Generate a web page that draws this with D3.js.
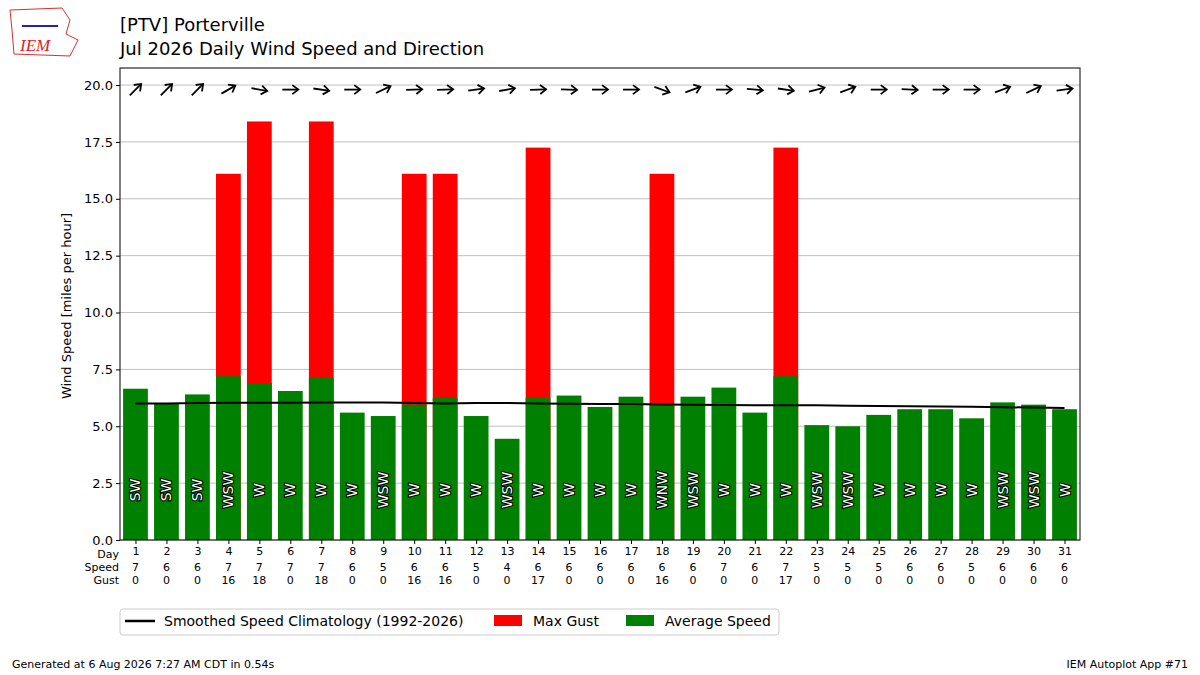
<!DOCTYPE html>
<html><head><meta charset="utf-8">
<script src="https://cdn.jsdelivr.net/npm/d3@7"></script>
<style>body{margin:0;background:#fff;font-family:"DejaVu Sans",sans-serif}</style>
</head><body><svg id="c" width="1200" height="675"></svg>
<script>
const days = d3.range(1,32);
const avgSpeed = [6.65,6.0,6.4,7.2,6.9,6.55,7.15,5.6,5.45,5.95,6.25,5.45,4.45,6.25,6.35,5.85,6.3,6.0,6.3,6.7,5.6,7.2,5.05,5.0,5.5,5.75,5.75,5.35,6.05,5.95,5.75];
const maxGust = [0,0,0,16.1,18.4,0,18.4,0,0,16.1,16.1,0,0,17.25,0,0,0,16.1,0,0,0,17.25,0,0,0,0,0,0,0,0,0];
const speedLbl = [7,6,6,7,7,7,7,6,5,6,6,5,4,6,6,6,6,6,6,7,6,7,5,5,5,6,6,5,6,6,6];
const gustLbl = [0,0,0,16,18,0,18,0,0,16,16,0,0,17,0,0,0,16,0,0,0,17,0,0,0,0,0,0,0,0,0];
const dirText = ["SW","SW","SW","WSW","W","W","W","W","WSW","W","W","W","WSW","W","W","W","W","WNW","WSW","W","W","W","WSW","WSW","W","W","W","W","WSW","WSW","W"];
const dirDeg = [225,225,225,240,280,270,278,270,245,268,268,262,260,268,272,270,270,290,250,270,275,278,255,250,270,273,270,270,250,245,262];
const climo = [6.0,6.0,6.02,6.03,6.03,6.03,6.04,6.04,6.04,6.02,6.0,6.02,6.02,6.0,5.99,5.98,5.98,5.96,5.95,5.93,5.92,5.92,5.92,5.9,5.89,5.88,5.87,5.86,5.84,5.82,5.8];
const yTicks = [0,2.5,5,7.5,10,12.5,15,17.5,20];

const svg = d3.select("#c");
const L=120,R=1080,T=68,B=540;
const x = d3.scaleLinear().domain([0.5,31.5]).range([L,R]);
const y = d3.scaleLinear().domain([0,20.75]).range([B,T]);
const bw = x(0.8)-x(0);

// grid
svg.append("g").selectAll("line").data(yTicks).join("line")
 .attr("x1",L).attr("x2",R).attr("y1",d=>y(d)).attr("y2",d=>y(d)).attr("stroke","#b0b0b0").attr("stroke-width",0.8);
// gust bars
svg.append("g").selectAll("rect").data(days.filter((d,i)=>maxGust[i]>0)).join("rect")
 .attr("x",d=>x(d)-bw/2).attr("width",bw).attr("y",d=>y(maxGust[d-1])).attr("height",d=>y(0)-y(maxGust[d-1])).attr("fill","#ff0000");
svg.append("g").selectAll("rect").data(days).join("rect")
 .attr("x",d=>x(d)-bw/2).attr("width",bw).attr("y",d=>y(avgSpeed[d-1])).attr("height",d=>y(0)-y(avgSpeed[d-1])).attr("fill","#008000");
// climo
svg.append("path").datum(days).attr("fill","none").attr("stroke","#000").attr("stroke-width",2)
 .attr("d",d3.line().x(d=>x(d)).y(d=>y(climo[d-1])));
// dir labels
svg.append("g").selectAll("text").data(days).join("text")
 .attr("transform",d=>`translate(${x(d)+5},${y(2.2)}) rotate(-90)`)
 .attr("text-anchor","middle").attr("font-size",14).attr("fill","#fff").attr("stroke","#000").attr("stroke-width",2.2)
 .attr("paint-order","stroke").text(d=>dirText[d-1]);
// arrows
const ag = svg.append("g").selectAll("g").data(days).join("g")
 .attr("transform",d=>`translate(${x(d)},${y(19.8)}) rotate(${dirDeg[d-1]-270})`);
ag.append("line").attr("x1",-8).attr("x2",7).attr("stroke","#000").attr("stroke-width",1.8);
ag.append("path").attr("d","M2,-4.5 L8,0 L2,4.5").attr("fill","none").attr("stroke","#000").attr("stroke-width",1.8);
// frame
svg.append("rect").attr("x",L).attr("y",T).attr("width",R-L).attr("height",B-T).attr("fill","none").attr("stroke","#000").attr("stroke-width",1);
// y axis
const ya = svg.append("g").attr("transform",`translate(${L},0)`).call(d3.axisLeft(y).tickValues(yTicks).tickFormat(d3.format(".1f")).tickSize(4));
ya.select(".domain").remove();
ya.selectAll("text").attr("font-size",13).attr("font-family","DejaVu Sans").attr("fill","#000");
svg.append("text").attr("transform",`translate(71,${(T+B)/2+2}) rotate(-90)`).attr("text-anchor","middle").attr("font-size",13).text("Wind Speed [miles per hour]");
// x ticks & table
const xa = svg.append("g").attr("transform",`translate(0,${B})`).call(d3.axisBottom(x).tickValues(days).tickFormat(d=>d).tickSize(4).tickPadding(3));
xa.select(".domain").remove();
xa.selectAll("text").attr("font-size",11).attr("font-family","DejaVu Sans").attr("fill","#000");
const rows=[["Day",null],["Speed",speedLbl],["Gust",gustLbl]];
rows.forEach((r,k)=>{
  svg.append("text").attr("x",119).attr("y",558+k*13).attr("text-anchor","end").attr("font-size",11).text(r[0]);
  if(r[1]) svg.append("g").selectAll("text").data(days).join("text").attr("x",d=>x(d)).attr("y",558+k*13).attr("text-anchor","middle").attr("font-size",11).text(d=>r[1][d-1]);
});
// titles
svg.append("text").attr("x",120).attr("y",31).attr("font-size",18).text("[PTV] Porterville");
svg.append("text").attr("x",120).attr("y",55).attr("font-size",18).text("Jul 2026 Daily Wind Speed and Direction");
// legend
const lg = svg.append("g");
lg.append("rect").attr("x",120).attr("y",609).attr("width",659).attr("height",26).attr("rx",3).attr("fill","#fff").attr("stroke","#ccc");
lg.append("line").attr("x1",125).attr("x2",155).attr("y1",621).attr("y2",621).attr("stroke","#000").attr("stroke-width",2.5);
lg.append("text").attr("x",164).attr("y",626).attr("font-size",14).text("Smoothed Speed Climatology (1992-2026)");
lg.append("rect").attr("x",494).attr("y",615).attr("width",28).attr("height",11).attr("fill","#ff0000");
lg.append("text").attr("x",533).attr("y",626).attr("font-size",14).text("Max Gust");
lg.append("rect").attr("x",626).attr("y",615).attr("width",28).attr("height",11).attr("fill","#008000");
lg.append("text").attr("x",665).attr("y",626).attr("font-size",14).text("Average Speed");
// footer
svg.append("text").attr("x",12).attr("y",668).attr("font-size",11).text("Generated at 6 Aug 2026 7:27 AM CDT in 0.54s");
svg.append("text").attr("x",1188).attr("y",668).attr("text-anchor","end").attr("font-size",11).text("IEM Autoplot App #71");
// logo
const lo = svg.append("g");
lo.append("path").attr("d","M10,10 L62,8 L70,20 L66,34 L78,40 L70,56 L14,54 L12,30 Z").attr("fill","#fff").attr("stroke","#c33").attr("stroke-width",1);
lo.append("line").attr("x1",22).attr("x2",58).attr("y1",26).attr("y2",26).attr("stroke","#22a").attr("stroke-width",2);
lo.append("text").attr("x",20).attr("y",51).attr("font-size",17).attr("font-style","italic").attr("font-family","Liberation Serif").attr("fill","#d22").text("IEM");
</script></body></html>
